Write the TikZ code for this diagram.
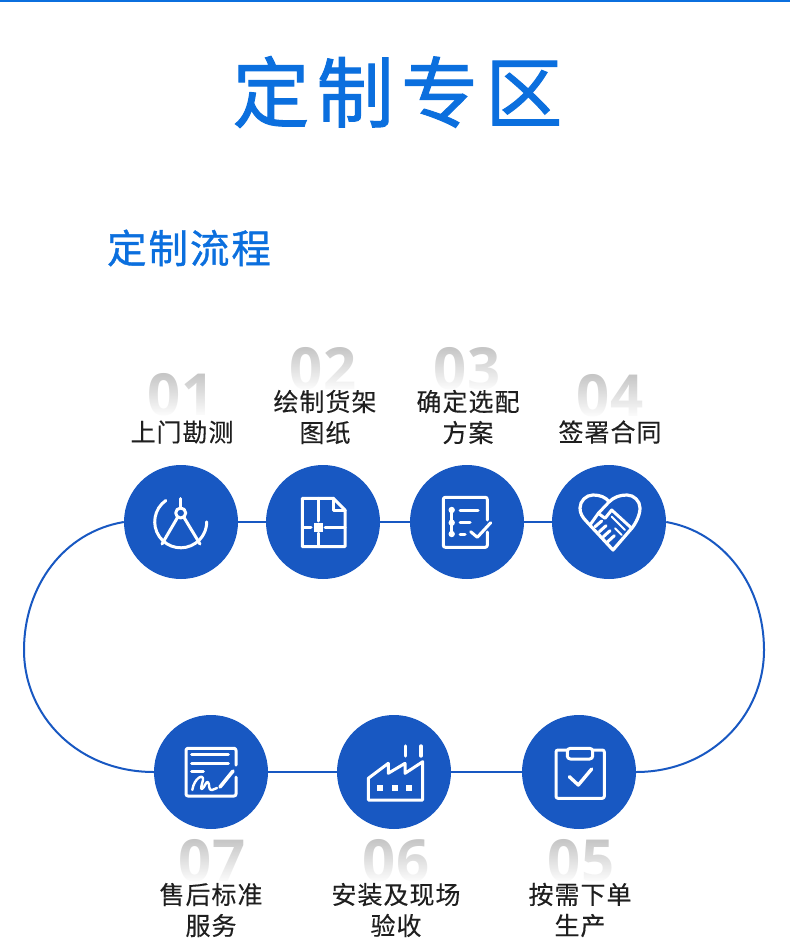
\documentclass[tikz,border=0pt]{standalone}
\usepackage{fontspec}
\usepackage{tikz}
\usepackage{xcolor}
\usetikzlibrary{fadings}
\newfontfamily\cjktitle[LetterSpace=9.5,FakeBold=1.3]{Noto Sans CJK SC}
\newfontfamily\cjkhead[LetterSpace=5,FakeBold=1]{Noto Sans CJK SC}
\newfontfamily\cjklabel[LetterSpace=4,FakeBold=0.25]{Noto Sans CJK SC}
\newfontfamily\digitfont{Open Sans Bold}
\definecolor{titleblue}{HTML}{0B6FDE}
\definecolor{discblue}{HTML}{1858C2}
\tikzset{
    disc/.style={circle,fill=discblue,minimum size=114pt,inner sep=0pt},
    link/.style={draw=discblue,line width=2pt},
    icon/.style={draw=white,line width=3pt,line join=round,line cap=round},
    iconfill/.style={fill=white,draw=none},
    num/.style={font=\digitfont\fontsize{58}{58}\selectfont,text=black!24,inner sep=0pt,text height=42pt,text depth=0pt},
    fadebar/.style={fill=white,path fading=north},
    lab/.style={font=\cjklabel\fontsize{25}{31}\selectfont,text=black!88,align=center,inner sep=0pt}
}
\begin{document}
\begin{tikzpicture}[x=1pt,y=-1pt]
    \useasboundingbox (0,0) rectangle (790,949);
    \fill[titleblue] (0,0) rectangle (790,2);
    \node[font=\cjktitle\fontsize{77}{77}\selectfont,text=titleblue,inner sep=0pt] (T1) at (397.5,92) {定制专区};
    \node[font=\cjkhead\fontsize{39.5}{39.5}\selectfont,text=titleblue,inner sep=0pt] (T2) at (189,248) {定制流程};

    \node[num] (N1) at (181,394) {01};
    \node[num] (N2) at (323,368) {02};
    \node[num] (N3) at (467,368) {03};
    \node[num] (N4) at (610,395) {04};
    \node[num] (N5) at (581,860) {05};
    \node[num] (N6) at (396,860) {06};
    \node[num] (N7) at (212,860) {07};
    \fill[fadebar] ([xshift=-4pt,yshift=2pt]N1.north west) rectangle ([xshift=4pt,yshift=-2pt]N1.south east);
    \fill[fadebar] ([xshift=-4pt,yshift=2pt]N2.north west) rectangle ([xshift=4pt,yshift=-2pt]N2.south east);
    \fill[fadebar] ([xshift=-4pt,yshift=2pt]N3.north west) rectangle ([xshift=4pt,yshift=-2pt]N3.south east);
    \fill[fadebar] ([xshift=-4pt,yshift=2pt]N4.north west) rectangle ([xshift=4pt,yshift=-2pt]N4.south east);
    \fill[fadebar] ([xshift=-4pt,yshift=2pt]N5.north west) rectangle ([xshift=4pt,yshift=-2pt]N5.south east);
    \fill[fadebar] ([xshift=-4pt,yshift=2pt]N6.north west) rectangle ([xshift=4pt,yshift=-2pt]N6.south east);
    \fill[fadebar] ([xshift=-4pt,yshift=2pt]N7.north west) rectangle ([xshift=4pt,yshift=-2pt]N7.south east);

    \node[lab] (L1) at (182,432) {上门勘测};
    \node[lab] (L2) at (325,417) {绘制货架\\图纸};
    \node[lab] (L3) at (468,417) {确定选配\\方案};
    \node[lab] (L4) at (610,432) {签署合同};
    \node[lab] (L5) at (580,910) {按需下单\\生产};
    \node[lab] (L6) at (396,910) {安装及现场\\验收};
    \node[lab] (L7) at (211,910) {售后标准\\服务};

    \coordinate (LE) at (24,650);
    \coordinate (RE) at (764,650);
    \node[disc] (C1) at (181,522) {};
    \node[disc] (C2) at (323,522) {};
    \node[disc] (C3) at (467,522) {};
    \node[disc] (C4) at (609,522) {};
    \node[disc] (C5) at (579,772) {};
    \node[disc] (C6) at (394,772) {};
    \node[disc] (C7) at (211,772) {};
    \draw[link] (C1)--(C2);
    \draw[link] (C2)--(C3);
    \draw[link] (C3)--(C4);
    \draw[link] (C5)--(C6);
    \draw[link] (C6)--(C7);
    \draw[link] (C1.west) .. controls (64,532) and (24,586) .. (LE);
    \draw[link] (LE) .. controls (24,716) and (78,772) .. (C7.west);
    \draw[link] (C4.east) .. controls (724,532) and (764,586) .. (RE);
    \draw[link] (RE) .. controls (764,716) and (710,772) .. (C5.east);

    % compass
    \draw[icon] (180.7,513) circle[radius=5pt];
    \draw[icon] (180.7,498.5)--(180.7,507.5);
    \draw[icon] (177.5,517.5)--(162,544);
    \draw[icon] (184,517.5)--(200,544);
    \draw[icon] (165.8,500.5) arc[start angle=125,end angle=360,radius=26pt];
    % plan
    \draw[icon] (333.3,498.3)--(302.3,498.3)--(302.3,546.7)--(345,546.7)--(345,510)--cycle;
    \draw[icon] (333.3,498.3)--(333.3,510)--(345,510);
    \draw[icon] (318.3,498.3)--(318.3,521);
    \draw[icon] (318.3,533)--(318.3,546.7);
    \draw[icon] (302.3,527.3)--(311,527.3);
    \draw[icon] (325,527.3)--(345,527.3);
    \fill[iconfill] (313.6,522.6) rectangle (323,532);
    % checklist
    \draw[icon,rounded corners=2pt] (487.3,520)--(487.3,497.3)--(443.3,497.3)--(443.3,547.3)--(487.3,547.3)--(487.3,532);
    \draw[icon] (451.7,510)--(451.7,534);
    \fill[iconfill] (451.7,510) circle[radius=3.2pt];
    \fill[iconfill] (451.7,522.7) circle[radius=3.2pt];
    \fill[iconfill] (451.7,534) circle[radius=3.2pt];
    \draw[icon] (460,510)--(478,510);
    \draw[icon] (460,522.7)--(470,522.7);
    \draw[icon] (460,534)--(465,534);
    \draw[icon] (470.7,531.7)--(477.3,537.3)--(490.7,522.7);
    % handshake heart
    \draw[icon,line width=3.2pt] (613,550) -- (587,522) .. controls (582,517) and (580,513) .. (580,508) .. controls (580,501) and (586,495) .. (593,495) .. controls (600,495) and (605,497) .. (609.3,501.7) .. controls (614,497) and (620,495) .. (627,495) .. controls (634,495) and (640,501) .. (640,508) .. controls (640,515) and (636,523) .. (631.7,528.3) -- cycle;
    \draw[icon] (609.3,501.7)--(598.3,513.3)--(605,518.3)--(611.7,510)--(631.7,528.3);
    \draw[icon] (598.3,513.3)--(590,525);
    \draw[icon] (595,526.7)--(601.7,521);
    \draw[icon] (599.3,531.7)--(606,525.7);
    \draw[icon] (603.3,536.7)--(610,530.7);
    \draw[icon] (607.7,541.7)--(614.3,535.7);
    \draw[icon,line width=2pt] (611.7,516.7)--(625,530);
    \draw[icon,line width=2pt] (615,528.3)--(621.7,535);
    % clipboard
    \draw[icon,rounded corners=2pt] (567,750)--(556,750)--(556,798.3)--(604.3,798.3)--(604.3,750)--(593,750);
    \draw[icon,rounded corners=3pt] (567.3,748.3) rectangle (592.7,759);
    \draw[icon,line width=3.4pt] (569.3,776.7)--(578.3,785)--(591.7,769);
    % factory
    \draw[icon] (368.3,800)--(368.3,778.3)--(388.3,763.3)--(388.3,773.3)--(405,763.3)--(405,773.3)--(422.7,761.7)--(422.7,800)--cycle;
    \draw[icon,line width=3.4pt] (405.7,746)--(405.7,756);
    \draw[icon,line width=3.4pt] (421,746)--(421,756);
    \fill[iconfill] (377,785.3) rectangle (383,791.3);
    \fill[iconfill] (392,785.3) rectangle (398,791.3);
    \fill[iconfill] (406.3,785.3) rectangle (412.3,791.3);
    % signed form
    \draw[icon,rounded corners=2pt] (236,765)--(236,748.3)--(186,748.3)--(186,796)--(236,796)--(236,777);
    \draw[icon] (191.7,754)--(228.3,754);
    \draw[icon] (191.7,763.3)--(228.3,763.3);
    \draw[icon] (191.7,771.7)--(203.3,771.7);
    \draw[icon,line width=3.6pt] (220,787)--(233,771);
    \draw[icon,line width=2.4pt] (192.3,790) .. controls (194,778) and (204,773) .. (203,780) .. controls (202,784) and (200,790) .. (202,789) .. controls (205,787) and (206,781) .. (208,782) .. controls (210,784) and (208,791) .. (212,790) -- (217,788);
\end{tikzpicture}
\end{document}
